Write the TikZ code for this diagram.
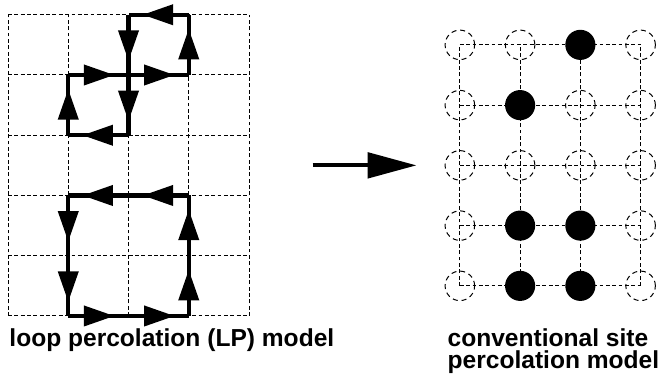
\documentclass[tikz,border=0pt]{standalone}
\usepackage{fontspec}
\setmainfont{Liberation Sans}
\usetikzlibrary{arrows.meta,decorations.markings,positioning}

\begin{document}
\begin{tikzpicture}[
    gridline/.style={line width=0.47pt, dash pattern=on 1.8pt off 1.2pt},
    loopedge/.style={line width=2pt, line cap=square, postaction={decorate},
      decoration={markings, mark=at position 0.5 with {\fill (0.26cm,0) -- (-0.24cm,0.175cm) -- (-0.24cm,-0.175cm) -- cycle;}}},
    emptysite/.style={circle, draw, line width=0.47pt, dash pattern=on 2.4pt off 1.8pt, minimum size=0.49cm, inner sep=0pt},
    fullsite/.style={circle, fill, minimum size=0.5cm, inner sep=0pt},
    caption/.style={font=\bfseries\fontsize{11.6}{13}\selectfont, inner sep=0pt}
]
    \useasboundingbox (-0.133,-0.963) rectangle (10.905,5.245);

    % loop lattice
    \foreach \i in {0,...,4}
        \foreach \j in {0,...,5}
            \coordinate (p\i\j) at (\i,\j);
    \foreach \i in {0,...,4}
        \draw[gridline] (p\i0) -- (p\i5);
    \foreach \j in {0,...,5}
        \draw[gridline] (p0\j) -- (p4\j);
    \foreach \a/\b in {25/24, 24/34, 34/35, 35/25, 14/24, 24/23, 23/13, 13/14,
                       12/11, 11/10, 10/20, 20/30, 30/31, 31/32, 32/22, 22/12}
        \draw[loopedge] (p\a) -- (p\b);

    % site lattice
    \foreach \i in {0,...,3}
        \foreach \j in {0,...,4}
            \coordinate (c\i\j) at (7.5+\i,0.5+\j);
    \foreach \i in {0,...,3}
        \draw[gridline] (c\i0) -- (c\i4);
    \foreach \j in {0,...,4}
        \draw[gridline] (c0\j) -- (c3\j);
    \foreach \s in {00,30,01,31,02,12,22,32,03,23,33,04,14,34}
        \node[emptysite] (s\s) at (c\s) {};
    \foreach \s in {24,13,11,21,10,20}
        \node[fullsite] (s\s) at (c\s) {};

    % mapping arrow
    \coordinate (from) at (5.057,2.5);
    \coordinate (to) at (6.78,2.5);
    \draw[line width=1.9pt, -{Triangle[length=0.81cm 0 0,width=0.42cm 0 0]}] (from) -- (to);

    \node[caption, anchor=base west] (lpmodel) at (0.017,-0.5) {loop percolation (LP) model};
    \node[caption, anchor=base west] (sitemodel) at (7.29,-0.5) {conventional site};
    \node[caption, anchor=base west] (sitemodel2) at ([yshift=-0.365cm]sitemodel.base west) {percolation model};
\end{tikzpicture}
\end{document}
